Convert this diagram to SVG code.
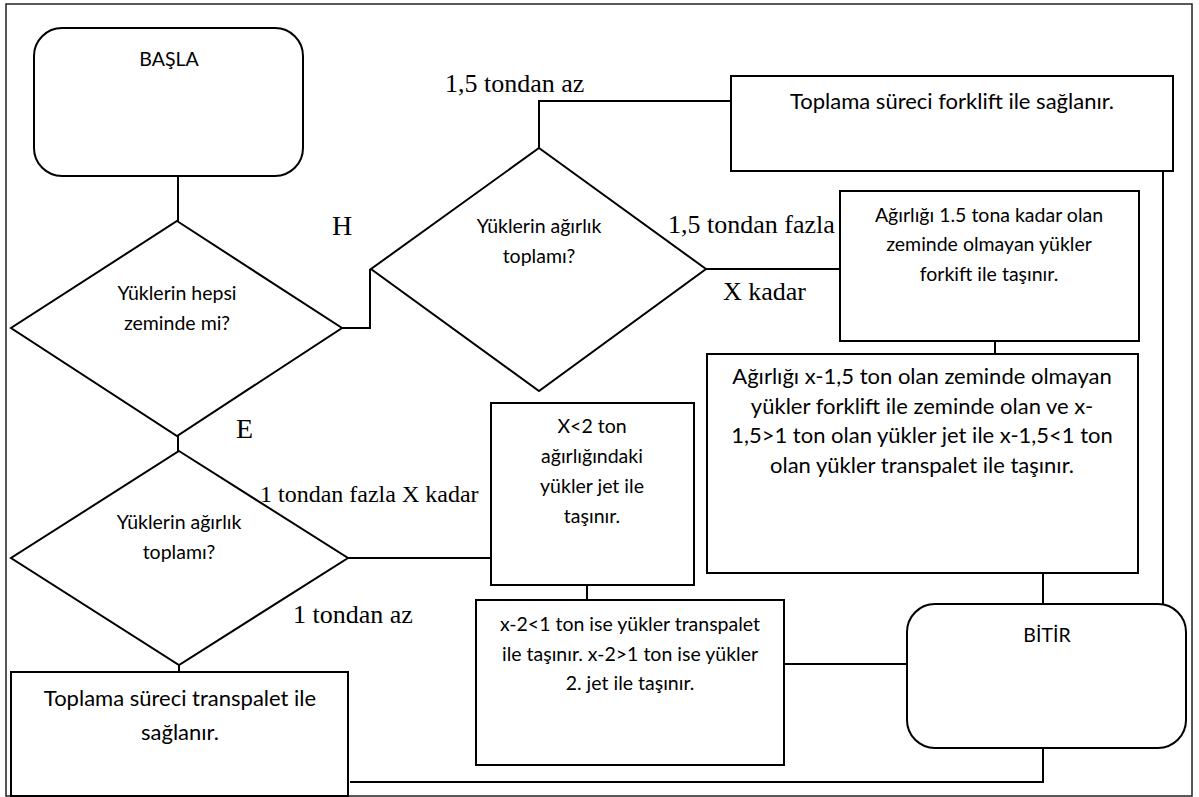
<svg xmlns="http://www.w3.org/2000/svg" width="1199" height="797" viewBox="0 0 1199 797">
  <style>
    .shape { fill: #fff; stroke: #000; stroke-width: 2; }
    .frame { fill: none; stroke: #222; stroke-width: 1.5; }
    .link { fill: none; stroke: #000; stroke-width: 2; }
    .sm { font-family: Lato, "Open Sans", sans-serif; font-size: 19.5px; fill: #000; text-anchor: middle; }
    .lg { font-family: Lato, "Open Sans", sans-serif; font-size: 22px; fill: #000; text-anchor: middle; }
    .lbl { font-family: "Liberation Serif", "Times New Roman", serif; fill: #000; }
  </style>

  <!-- page frame -->
  <rect class="frame" x="6" y="4" width="1186" height="792"/>

  <!-- connectors -->
  <g id="connectors">
    <path class="link" d="M178,176 V221"/>
    <path class="link" d="M342,328 H370 V269"/>
    <path class="link" d="M539,148 V101 H731"/>
    <path class="link" d="M706,269 H840"/>
    <path class="link" d="M995,341 V354"/>
    <path class="link" d="M1043,573 V604"/>
    <path class="link" d="M1163,171 V604"/>
    <path class="link" d="M178,436 V451"/>
    <path class="link" d="M348,558 H491"/>
    <path class="link" d="M179,653 V672"/>
    <path class="link" d="M587,585 V600"/>
    <path class="link" d="M784,664 H907"/>
    <path class="link" d="M1043,748 V782 H350"/>
  </g>

  <!-- start -->
  <g id="start">
    <rect class="shape" x="34" y="28" width="269" height="148" rx="28" ry="28"/>
    <text class="sm" x="169" y="66">BAŞLA</text>
  </g>

  <!-- decision: all loads on the floor? -->
  <g id="dec-floor">
    <polygon class="shape" points="177,221 342,328 177,436 11,328"/>
    <text class="sm" x="177" y="300">Yüklerin hepsi</text>
    <text class="sm" x="177" y="330">zeminde mi?</text>
  </g>

  <!-- decision: total weight (not on floor) -->
  <g id="dec-weight-h">
    <polygon class="shape" points="539,148 706,269 539,391 371,269"/>
    <text class="sm" x="539" y="233">Yüklerin ağırlık</text>
    <text class="sm" x="539" y="263">toplamı?</text>
  </g>

  <!-- forklift only -->
  <g id="box-forklift">
    <rect class="shape" x="731" y="76" width="442" height="95"/>
    <text class="lg" x="952" y="109">Toplama süreci forklift ile sağlanır.</text>
  </g>

  <!-- up to 1.5 t by forklift -->
  <g id="box-forklift-15">
    <rect class="shape" x="840" y="191" width="299" height="150"/>
    <text class="sm" x="989" y="222">Ağırlığı 1.5 tona kadar olan</text>
    <text class="sm" x="989" y="251">zeminde olmayan yükler</text>
    <text class="sm" x="989" y="281">forkift ile taşınır.</text>
  </g>

  <!-- mixed handling -->
  <g id="box-mixed">
    <rect class="shape" x="707" y="354" width="431" height="219"/>
    <text class="lg" x="922" y="384">Ağırlığı x-1,5 ton olan zeminde olmayan</text>
    <text class="lg" x="922" y="414">yükler forklift ile zeminde olan ve x-</text>
    <text class="lg" x="922" y="443">1,5&gt;1 ton olan yükler jet ile x-1,5&lt;1 ton</text>
    <text class="lg" x="922" y="473">olan yükler transpalet ile taşınır.</text>
  </g>

  <!-- decision: total weight (on floor) -->
  <g id="dec-weight-e">
    <polygon class="shape" points="179,451 348,558 179,665 11,558"/>
    <text class="sm" x="179" y="529">Yüklerin ağırlık</text>
    <text class="sm" x="179" y="559">toplamı?</text>
  </g>

  <!-- jet up to 2 t -->
  <g id="box-jet">
    <rect class="shape" x="491" y="403" width="203" height="182"/>
    <text class="sm" x="592" y="433">X&lt;2 ton</text>
    <text class="sm" x="592" y="463">ağırlığındaki</text>
    <text class="sm" x="592" y="493">yükler jet ile</text>
    <text class="sm" x="592" y="523">taşınır.</text>
  </g>

  <!-- remainder handling -->
  <g id="box-remainder">
    <rect class="shape" x="476" y="600" width="308" height="165"/>
    <text class="sm" x="630" y="631">x-2&lt;1 ton ise yükler transpalet</text>
    <text class="sm" x="630" y="661">ile taşınır. x-2&gt;1 ton ise yükler</text>
    <text class="sm" x="630" y="690">2. jet ile taşınır.</text>
  </g>

  <!-- pallet jack only -->
  <g id="box-transpalet">
    <rect class="shape" x="11" y="672" width="337" height="124"/>
    <text class="lg" x="180" y="706">Toplama süreci transpalet ile</text>
    <text class="lg" x="180" y="740">sağlanır.</text>
  </g>

  <!-- end -->
  <g id="end">
    <rect class="shape" x="907" y="604" width="279" height="144" rx="28" ry="28"/>
    <text class="sm" x="1047" y="642">BİTİR</text>
  </g>

  <!-- branch labels -->
  <g id="labels">
    <text class="lbl" x="445" y="92" font-size="26">1,5 tondan az</text>
    <text class="lbl" x="332" y="235" font-size="28">H</text>
    <text class="lbl" x="668" y="233" font-size="26">1,5 tondan fazla</text>
    <text class="lbl" x="723" y="300" font-size="26">X kadar</text>
    <text class="lbl" x="236" y="438" font-size="28">E</text>
    <text class="lbl" x="260" y="502" font-size="24">1 tondan fazla X kadar</text>
    <text class="lbl" x="293" y="623" font-size="26">1 tondan az</text>
  </g>
</svg>
